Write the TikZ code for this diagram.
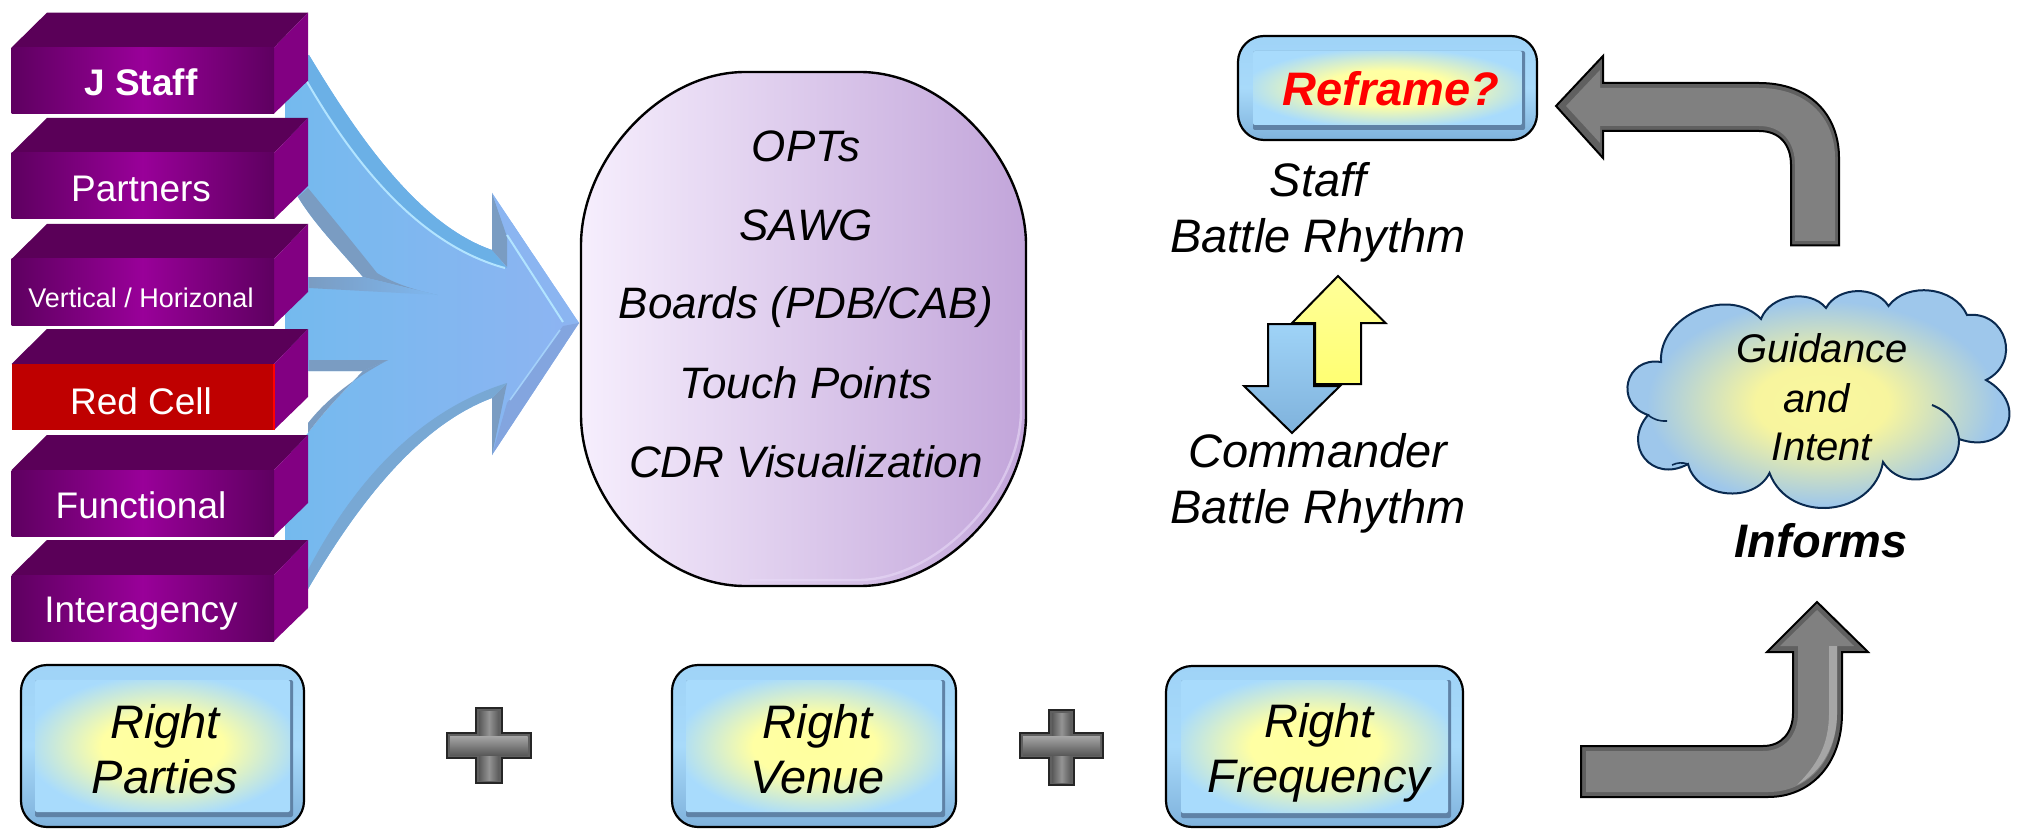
\documentclass[tikz,border=0pt]{standalone}
\usepackage{fontspec}
\setmainfont{Liberation Sans}
\pgfdeclareradialshading{boxglow}{\pgfpointorigin}{rgb(0bp)=(1,1,.62); rgb(12bp)=(1,1,.64); rgb(27bp)=(.66,.86,.99); rgb(50bp)=(.66,.86,.99)}
\pgfdeclareradialshading{cloudglow}{\pgfpointorigin}{rgb(0bp)=(.98,.97,.62); rgb(8bp)=(.97,.96,.62); rgb(21bp)=(.62,.78,.92); rgb(50bp)=(.62,.78,.92)}
\definecolor{plumdark}{HTML}{5A0058}
\definecolor{plumside}{HTML}{820082}
\definecolor{plummid}{HTML}{990099}
\definecolor{plumedge}{HTML}{5E0060}
\definecolor{flowA}{HTML}{74BAEE}
\definecolor{flowB}{HTML}{8EB4F2}
\definecolor{flowedge}{HTML}{6BB0E6}
\definecolor{flowshade}{HTML}{7A9CC2}
\definecolor{flowlight}{HTML}{B2E4FF}
\definecolor{steel}{HTML}{808080}
\definecolor{steeldark}{HTML}{606060}
\definecolor{cloudline}{HTML}{0A2A50}
\definecolor{podA}{HTML}{F6EEFD}
\definecolor{podB}{HTML}{E2D0F5}
\definecolor{podC}{HTML}{C2A5DA}
\definecolor{boxtop}{HTML}{9FD3F7}
\definecolor{boxmidc}{HTML}{A8DAFA}
\definecolor{boxlow}{HTML}{7FB2DC}
\definecolor{boxedge}{HTML}{5F82A6}
\newcommand{\plumblock}[3]{%
  \fill[plumdark] (11.5,{#1+35}) -- (47,#1) -- (308,#1) -- (274,{#1+35}) -- cycle;
  \fill[plumside] (274,{#1+35}) -- (308,#1) -- (308,{#1+68}) -- (274,{#1+101}) -- cycle;
  \fill[#2] (11.5,{#1+35}) rectangle (274,{#1+101});
  #3
}
\newcommand{\plumfront}[1]{\shade[left color=plumedge,right color=plumedge,middle color=plummid] (11.5,{#1+35}) rectangle (274,{#1+101});}
\newcommand{\bevbox}[6]{%
  \shade[draw=black,line width=1.1pt,rounded corners=13pt,top color=boxtop,bottom color=boxlow,middle color=boxmidc] (#1,#2) rectangle (#3,#4);
  \fill[boxedge,rounded corners=1pt] ({#1+#5},{#2+#6}) rectangle ({#3-#5+3},{#4-#6+5});
  \shade[shading=boxglow,rounded corners=1pt] ({#1+#5},{#2+#6}) rectangle ({#3-#5},{#4-#6});
}
\newcommand{\plusmark}[6]{%
  \fill[steeldark,draw=black!85,line width=1pt] (#3,#2) -- (#4,#2) -- (#4,#5) -- (#6,#5) -- ({#6},{#5+25}) -- (#4,{#5+25}) -- (#4,{#2+75}) -- (#3,{#2+75}) -- (#3,{#5+25}) -- (#1,{#5+25}) -- (#1,#5) -- (#3,#5) -- cycle;
  \shade[left color=black!65,right color=black!65,middle color=black!42] ({#3+3},{#2+3}) rectangle ({#4-3},{#2+72});
  \shade[top color=black!35,bottom color=black!65] ({#1+3},{#5+3}) rectangle ({#6-3},{#5+22});
}
\tikzset{
  lbl/.style={font=\fontsize{23.5}{26}\selectfont\itshape,text=black,inner sep=0pt,align=center},
  venue/.style={font=\fontsize{22}{25}\selectfont\itshape,text=black,inner sep=0pt},
  blocklbl/.style={font=\fontsize{18.5}{21}\selectfont,text=white,inner sep=0pt},
  cloudlbl/.style={font=\fontsize{20}{23}\selectfont\itshape,text=black,inner sep=0pt}
}
\begin{document}
\begin{tikzpicture}[x=0.5pt,y=-0.5pt]
\useasboundingbox (0,0) rectangle (2028,834);
% merging arrow
\shade[left color=flowA,right color=flowB]
 (285,60) -- (309,55) .. controls (360,140) and (420,225) .. (492,250) -- (492,193) -- (579,323) -- (492,455) -- (492,398)
 .. controls (420,425) and (360,500) .. (308,589) -- (285,627) -- (285,460) -- (308,433) .. controls (325,410) and (345,390) .. (363,371)
 -- (285,371) -- (285,277) -- (363,277) .. controls (340,250) and (315,225) .. (298,197) -- (285,180) -- cycle;
\fill[flowedge] (309,55) .. controls (360,140) and (420,225) .. (492,250) -- (507,268) .. controls (420,245) and (355,165) .. (306,80) -- cycle;
\draw[flowlight,line width=1pt] (306,80) .. controls (355,165) and (420,245) .. (505,268);
\fill[flowshade] (492,193) -- (507,237) -- (507,267) -- (492,250) -- cycle;
\fill[flowB!90!flowA] (492,193) -- (579,323) -- (563,323) -- (507,235) -- cycle;
\draw[flowlight,line width=1pt] (507,235) -- (563,322);
\fill[flowB!92!black] (579,323) -- (492,455) -- (507,403) -- (563,326) -- cycle;
\draw[flowlight!60!flowB,line width=.8pt] (510,400) -- (560,330);
\fill[flowshade] (492,455) -- (507,383) -- (492,398) -- cycle;
\fill[flowshade!60!flowA] (492,398) .. controls (420,425) and (360,500) .. (308,589) -- (308,570) .. controls (355,480) and (420,410) .. (507,383) -- cycle;
\fill[flowshade] (298,197) .. controls (315,225) and (340,250) .. (363,277) -- (437,295) .. controls (415,290) and (395,284) .. (377,273) .. controls (355,245) and (330,215) .. (308,188) -- cycle;
\shade[left color=flowshade,right color=flowA!60!flowB] (309,277) -- (363,277) -- (437,295) -- (309,288) -- cycle;
\fill[flowshade] (309,371) -- (363,371) -- (388,360) -- (309,360) -- cycle;
\fill[flowshade] (363,371) .. controls (345,390) and (325,410) .. (308,433) -- (308,423) .. controls (330,395) and (360,375) .. (388,360) -- cycle;
% blocks
\plumblock{12.6}{plummid}{\plumfront{12.6}}
\node[blocklbl,font=\fontsize{18.5}{21}\selectfont\bfseries] (jstaff) at (141,82) {J Staff};
\plumblock{118}{plummid}{\plumfront{118}}
\node[blocklbl] (partners) at (141,188.5) {Partners};
\plumblock{224}{plummid}{\plumfront{224}}
\node[blocklbl,font=\fontsize{13.5}{16}\selectfont] (vertical) at (141,297.5) {Vertical / Horizonal};
\plumblock{329}{red!75!black}{\draw[red,line width=.8pt] (274,364) -- (274,430);}
\node[blocklbl] (redcell) at (141,401) {Red Cell};
\plumblock{435}{plummid}{\plumfront{435}}
\node[blocklbl] (functional) at (141,505) {Functional};
\plumblock{540}{plummid}{\plumfront{540}}
\node[blocklbl] (interagency) at (141,614) {Interagency};
% venue pod
\shade[left color=podA,middle color=podB,right color=podC]
 (581,245) .. controls (581,160) and (660,72) .. (745,72) -- (860,72) .. controls (945,72) and (1026,160) .. (1026,245)
 -- (1026,415) .. controls (1026,500) and (945,586) .. (860,586) -- (745,586) .. controls (660,586) and (581,500) .. (581,415) -- cycle;
\draw[podB!80!white,line width=1.2pt,opacity=.6] (1021,330) -- (1021,410) .. controls (1021,490) and (940,578) .. (860,580) -- (750,580);
\draw[black,line width=1.2pt]
 (581,245) .. controls (581,160) and (660,72) .. (745,72) -- (860,72) .. controls (945,72) and (1026,160) .. (1026,245)
 -- (1026,415) .. controls (1026,500) and (945,586) .. (860,586) -- (745,586) .. controls (660,586) and (581,500) .. (581,415) -- cycle;
\node[venue] (opts) at (806,146) {OPTs};
\node[venue] (sawg) at (806,225) {SAWG};
\node[venue] (boards) at (806,307) {Boards (PDB/CAB)};
\node[venue] (touch) at (806,383) {Touch Points};
\node[venue] (cdr) at (806,462) {CDR Visualization};
% reframe
\bevbox{1238}{36}{1537}{140}{15}{15}
\node[lbl,font=\fontsize{23.5}{26}\selectfont\bfseries\itshape,text=red] (reframe) at (1391,89) {Reframe?};
\node[lbl] (staffbr) at (1318,212) {Staff\\[2pt]Battle Rhythm};
\node[lbl] (cmdbr) at (1318,483) {Commander\\[2pt]Battle Rhythm};
% up / down arrows
\shade[draw=black,line width=1pt,top color=yellow!40!white,bottom color=yellow!55!white] (1338,276) -- (1385.5,323) -- (1361,323) -- (1361,384) -- (1315,384) -- (1315,323) -- (1292,323) -- cycle;
\shade[draw=black,line width=1pt,top color=boxtop,bottom color=boxlow] (1268,324) -- (1314,324) -- (1314,386) -- (1340,386) -- (1292,433) -- (1244,386) -- (1268,386) -- cycle;
% top grey arrow
\fill[steeldark,draw=black,line width=1pt] (1556,106) -- (1603,56) -- (1603,83) -- (1759,83) .. controls (1810,83) and (1839,115) .. (1839,158) -- (1839,245.5) -- (1791,245.5) -- (1791,165) .. controls (1791,145) and (1780,131) .. (1759,131) -- (1603,131) -- (1603,158) -- cycle;
\fill[steel] (1566,106) -- (1600,70) -- (1600,88) -- (1759,88) .. controls (1807,88) and (1835,118) .. (1835,158) -- (1835,241) -- (1795,241) -- (1795,165) .. controls (1795,142) and (1782,126) .. (1759,126) -- (1600,126) -- (1600,143) -- cycle;
% cloud
\shade[shading=cloudglow,draw=cloudline,line width=1pt]
 (1661,362) to[bend left=70,looseness=1.1] (1761,319) to[bend left=60] (1826,308) to[bend left=60] (1888.5,306)
 to[bend left=60] (1967,315) to[bend left=80,looseness=1.5] (1986,380) to[bend left=85,looseness=2] (1959,439)
 to[bend left=75,looseness=1.25] (1883,462) to[bend left=75,looseness=1.25] (1769.5,473) to[bend left=70,looseness=1.1] (1688,464)
 to[bend left=80,looseness=1.65] (1648,415) to[bend left=85,looseness=1.7] (1661,362) -- cycle;
\draw[cloudline,line width=1pt] (1932,405) to[bend left=30] (1959,439);
\draw[cloudline,line width=.8pt] (1648,415) to[bend right=20] (1667,421);
\draw[cloudline,line width=.8pt] (1688,464) to[bend right=20] (1672,465);
\node[cloudlbl] (guidance) at (1822,348) {Guidance};
\node[cloudlbl] (andword) at (1816.5,398) {and};
\node[cloudlbl] (intent) at (1822,447) {Intent};
\node[lbl,font=\fontsize{23.5}{26}\selectfont\bfseries\itshape] (informs) at (1821,541) {Informs};
% bottom row
\bevbox{21}{665}{304}{827}{14}{15}
\node[lbl] (parties) at (165,749) {Right\\[1.5pt]Parties};
\plusmark{447}{708}{476}{502}{733}{530.5}
\bevbox{672}{665}{956}{827}{14}{15}
\node[lbl] (venuebox) at (817.5,749) {Right\\[1.5pt]Venue};
\plusmark{1020}{710}{1049}{1074}{733}{1103}
\bevbox{1166}{666}{1463}{827}{15}{14}
\node[lbl] (frequency) at (1319,753) {Right\\[1.5pt]Frequency};
% lower grey arrow
\fill[steeldark,draw=black,line width=1pt] (1581,746) -- (1763,746) .. controls (1782,746) and (1793,732) .. (1793,713) -- (1793,652) -- (1767,652) -- (1817,602) -- (1868,652) -- (1842,652) -- (1842,713) .. controls (1842,765) and (1810,797) .. (1768,797) -- (1581,797) -- cycle;
\fill[steel] (1586,751) -- (1763,751) .. controls (1785,751) and (1798,735) .. (1798,713) -- (1798,646) -- (1780,646) -- (1817,610) -- (1854,646) -- (1837,646) -- (1837,713) .. controls (1837,762) and (1807,792) .. (1768,792) -- (1586,792) -- cycle;
\fill[gray!70!white] (1829,646) -- (1837,646) -- (1837,713) .. controls (1837,745) and (1822,772) .. (1797,785) .. controls (1817,765) and (1829,745) .. (1829,713) -- cycle;
\end{tikzpicture}
\end{document}
